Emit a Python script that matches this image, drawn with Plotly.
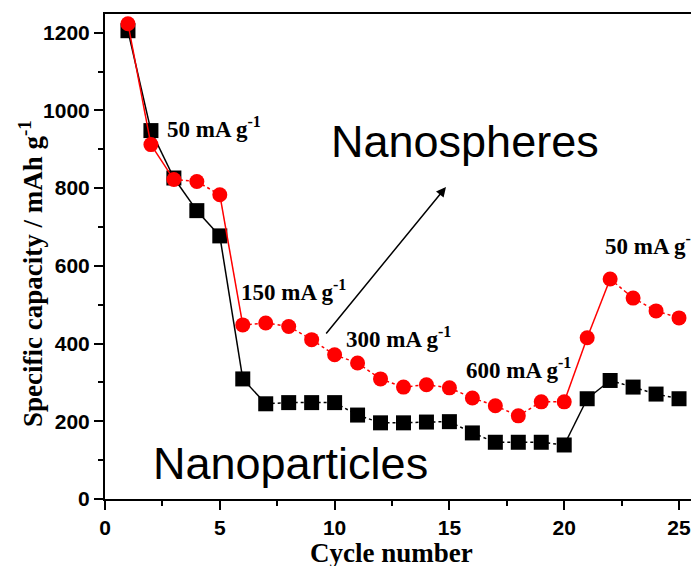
import plotly.graph_objects as go

cycles = list(range(1, 26))
nanoparticles = [1205, 948, 826, 742, 677, 309, 245, 248, 248, 248,
                 216, 196, 196, 198, 199, 170, 146, 146, 146, 139,
                 258, 305, 288, 270, 258]
nanospheres = [1223, 912, 822, 817, 783, 448, 453, 444, 410, 371,
               350, 309, 288, 294, 286, 260, 240, 214, 250, 250,
               415, 566, 517, 484, 466]

# segments drawn solid (index of segment start); others dash-dot
black_solid = {0, 1, 2, 3, 4, 5, 19, 20}
red_solid = {0, 1, 4, 19, 20}

rate_labels = ["50 mA g<sup>-1</sup>", "150 mA g<sup>-1</sup>", "300 mA g<sup>-1</sup>",
               "600 mA g<sup>-1</sup>", "50 mA g<sup>-1</sup>"]
rate_x = [2.6, 5.85, 10.4, 15.65, 21.68]
rate_y = [955, 536, 416, 337, 654]

x_ticks = [0, 5, 10, 15, 20, 25]
y_ticks = [0, 200, 400, 600, 800, 1000, 1200]

OFF = 8  # page body margin of the html page


def split(xs, ys, solid):
    sx, sy, dx, dy = [], [], [], []
    for i in range(len(xs) - 1):
        if i in solid:
            sx += [xs[i], xs[i + 1], None]
            sy += [ys[i], ys[i + 1], None]
        else:
            dx += [xs[i], xs[i + 1], None]
            dy += [ys[i], ys[i + 1], None]
    return sx, sy, dx, dy


fig = go.Figure()
for ys, solid, color, sym, size in [
    (nanoparticles, black_solid, "black", "square", 15),
    (nanospheres, red_solid, "red", "circle", 15),
]:
    sx, sy, dx, dy = split(cycles, ys, solid)
    fig.add_trace(go.Scatter(x=sx, y=sy, mode="lines",
                             line=dict(color=color, width=1.5), showlegend=False))
    fig.add_trace(go.Scatter(x=dx, y=dy, mode="lines",
                             line=dict(color=color, width=1.5, dash="dashdot"), showlegend=False))
    fig.add_trace(go.Scatter(x=cycles, y=ys, mode="markers",
                             marker=dict(symbol=sym, size=size, color=color, line=dict(width=0)),
                             showlegend=False))

serif = "Liberation Serif, Times New Roman, serif"
sans = "Liberation Sans, Arial, sans-serif"

for t, x, y in zip(rate_labels, rate_x, rate_y):
    fig.add_annotation(x=x, y=y, text=t, showarrow=False, xanchor="left", yanchor="middle",
                       font=dict(family=serif, size=23, color="black", weight="bold"))

fig.add_annotation(x=15.7, y=920, text="Nanospheres", showarrow=False,
                   font=dict(family=sans, size=45, color="black"))
fig.add_annotation(x=8.1, y=92, text="Nanoparticles", showarrow=False,
                   font=dict(family=sans, size=45, color="black"))
fig.add_annotation(x=14.85, y=803, ax=9.58, ay=422, axref="x", ayref="y",
                   xref="x", yref="y", text="", showarrow=True,
                   arrowhead=2, arrowsize=1.3, arrowwidth=1.5, arrowcolor="black")

L, T, B = 105 - OFF, 14 - OFF, 499 - OFF
PW, PH = 699 - 105, 499 - 14

# axis titles
fig.add_annotation(xref="paper", yref="paper", x=(31 - 105) / PW, y=(499 - 274) / PH,
                   xanchor="center", yanchor="middle",
                   text="Specific capacity / mAh g<sup>-1</sup>", textangle=-90, showarrow=False,
                   font=dict(family=serif, size=27, color="black", weight="bold"))
fig.add_annotation(xref="paper", yref="paper", x=(391 - 105) / PW, y=-(553 - 499) / PH,
                   xanchor="center", yanchor="middle",
                   text="Cycle number", showarrow=False,
                   font=dict(family=serif, size=27, color="black", weight="bold"))

fig.update_layout(
    width=699 - OFF, height=566 - OFF,
    margin=dict(l=L, r=0, t=T, b=(566 - OFF) - B),
    plot_bgcolor="white", paper_bgcolor="white",
    xaxis=dict(range=[0, 25.87], tickvals=x_ticks, showgrid=False, zeroline=False, automargin=False,
               showline=True, linecolor="black", linewidth=2, mirror=True,
               ticks="outside", ticklen=9, tickwidth=1.5, tickcolor="black",
               minor=dict(dtick=2.5, tick0=0, ticks="outside", ticklen=5, tickwidth=1.5, tickcolor="black"),
               tickfont=dict(family=sans, size=21, color="black", weight="bold")),
    yaxis=dict(range=[0, 1248], tickvals=y_ticks, showgrid=False, zeroline=False, automargin=False,
               showline=True, linecolor="black", linewidth=2,
               ticks="outside", ticklen=9, tickwidth=1.5, tickcolor="black",
               minor=dict(dtick=100, tick0=0, ticks="outside", ticklen=5, tickwidth=1.5, tickcolor="black"),
               tickfont=dict(family=sans, size=21, color="black", weight="bold")),
)

fig.write_html("out.html")
